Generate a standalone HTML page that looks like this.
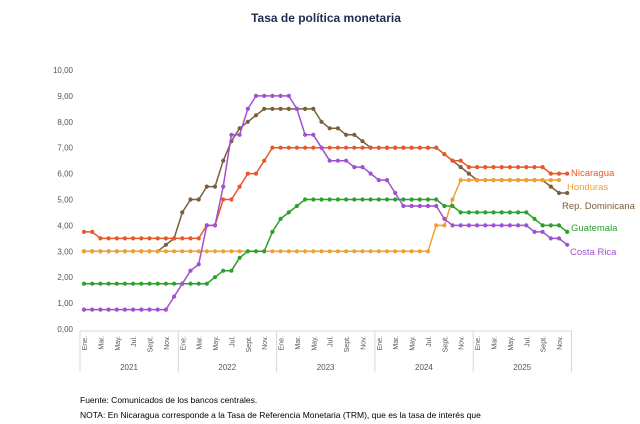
<!DOCTYPE html>
<html><head><meta charset="utf-8"><style>
html,body{margin:0;padding:0;background:#fff;width:640px;height:424px;overflow:hidden}
svg{display:block}
text{font-family:"Liberation Sans",sans-serif}
</style></head><body>
<svg id="s" width="640" height="424" viewBox="0 0 640 424" xmlns="http://www.w3.org/2000/svg">
<text x="326" y="22" text-anchor="middle" font-size="12" font-weight="bold" fill="#1f2d4d">Tasa de política monetaria</text>
<g id="g"></g>
<text x="80" y="403" font-size="8.5" fill="#000">Fuente: Comunicados de los bancos centrales.</text>
<text x="80" y="418" font-size="8.5" fill="#000">NOTA: En Nicaragua corresponde a la Tasa de Referencia Monetaria (TRM), que es la tasa de interés que</text>
</svg>
<script>
var g=document.getElementById('g'),h='';
function X(i){return 84+8.19*i}
function Y(v){return 329-25.9*v}
for(var k=0;k<=10;k++){var t=(k<10?k+',00':'10,00');h+='<text x="73" y="'+(Y(k)+3)+'" text-anchor="end" font-size="8" fill="#555">'+t+'</text>';}
h+='<line x1="80" y1="331" x2="572" y2="331" stroke="#d9d9d9"/>';
for(var y=0;y<=5;y++){var bx=80+98.3*y;h+='<line x1="'+bx+'" y1="331" x2="'+bx+'" y2="372" stroke="#d9d9d9"/>';
 if(y<5)h+='<text x="'+(bx+49)+'" y="370" text-anchor="middle" font-size="8" fill="#555">'+(2021+y)+'</text>';}
var ml=['Ene.','Mar.','May.','Jul.','Sept.','Nov.'];
for(var i=0;i<60;i+=2){var x=X(i)+3;h+='<text transform="translate('+x+',336) rotate(-90)" text-anchor="end" font-size="7" fill="#555">'+ml[(i%12)/2]+'</text>';}
function R(a){var o=[];a.forEach(function(p){for(var j=0;j<p[1];j++)o.push(p[0]);});return o;}
var S=[
['#7b5e3b',R([[3,10],[3.25,1],[3.5,1],[4.5,1],[5,2],[5.5,2],[6.5,1],[7.25,1],[7.75,1],[8,1],[8.25,1],[8.5,7],[8,1],[7.75,2],[7.5,2],[7.25,1],[7,9],[6.75,1],[6.5,1],[6.25,1],[6,1],[5.75,9],[5.5,1],[5.25,2]])],
['#f0a030',R([[3,43],[4,2],[5,1],[5.75,13]])],
['#2ca02c',R([[1.75,16],[2,1],[2.25,2],[2.75,1],[3,3],[3.75,1],[4.25,1],[4.5,1],[4.75,1],[5,17],[4.75,2],[4.5,9],[4.25,1],[4,3],[3.75,1]])],
['#e8572a',R([[3.75,2],[3.5,13],[4,2],[5,2],[5.5,1],[6,2],[6.5,1],[7,21],[6.75,1],[6.5,2],[6.25,10],[6,3]])],
['#a050d0',R([[0.75,11],[1.25,1],[1.75,1],[2.25,1],[2.5,1],[4,2],[5.5,1],[7.5,2],[8.5,1],[9,5],[8.5,1],[7.5,2],[7,1],[6.5,3],[6.25,2],[6,1],[5.75,2],[5.25,1],[4.75,5],[4.25,1],[4,10],[3.75,2],[3.5,2],[3.25,1]])]
];
S.forEach(function(s){var c=s[0],d=s[1],pts=d.map(function(v,i){return X(i).toFixed(1)+','+Y(v).toFixed(1)}).join(' ');
 h+='<polyline points="'+pts+'" fill="none" stroke="'+c+'" stroke-width="1.5"/>';
 d.forEach(function(v,i){h+='<circle cx="'+X(i).toFixed(1)+'" cy="'+Y(v).toFixed(1)+'" r="2.1" fill="'+c+'"/>';});});
var L=[['Nicaragua',571,176,'#e8572a'],['Honduras',567,190,'#f0a030'],['Rep. Dominicana',562,209,'#7b5e3b'],['Guatemala',571,231,'#2ca02c'],['Costa Rica',570,255,'#a050d0']];
L.forEach(function(l){h+='<text x="'+l[1]+'" y="'+l[2]+'" font-size="9.5" fill="'+l[3]+'">'+l[0]+'</text>';});
g.innerHTML=h;
</script>
</body></html>
